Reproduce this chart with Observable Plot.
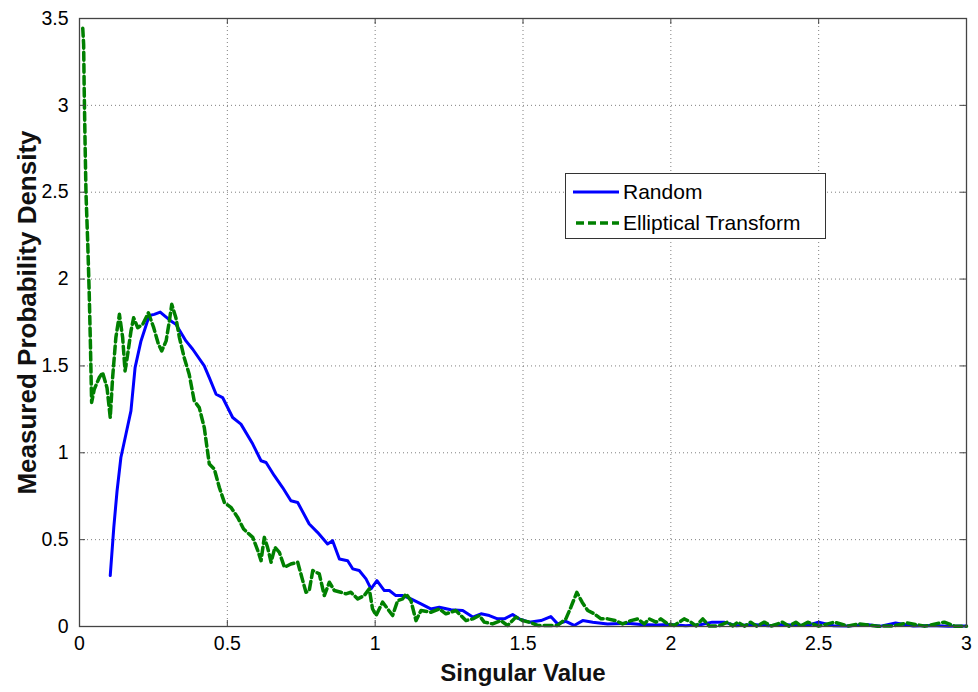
<!DOCTYPE html>
<html>
<head>
<meta charset="utf-8">
<script src="https://cdn.jsdelivr.net/npm/d3@7"></script>
<script src="https://cdn.jsdelivr.net/npm/@observablehq/plot@0.6"></script>
<style>
  html, body { margin: 0; padding: 0; background: #fff; }
  #wrap { position: relative; width: 978px; height: 692px; font-family: "Liberation Sans", Arial, sans-serif; }
  #legend {
    position: absolute; left: 565px; top: 173px; width: 261px; height: 66px;
    background: #fff; border: 1px solid #333; box-sizing: border-box;
  }
  .entry { position: absolute; left: 7px; height: 30px; display: flex; align-items: center; }
  .entry svg { width: 46px; height: 10px; margin-right: 4px; }
  .entry span { font-size: 21px; color: #000; }
</style>
</head>
<body>
<div id="wrap">
  <div id="chart"></div>
  <div id="legend">
    <div class="entry" style="top:3px">
      <svg><line x1="0" x2="46" y1="5" y2="5" stroke="#0000ff" stroke-width="3"/></svg><span>Random</span>
    </div>
    <div class="entry" style="top:34px">
      <svg><line x1="3" x2="46" y1="5" y2="5" stroke="#008000" stroke-width="3.5" stroke-dasharray="8,4"/></svg><span>Elliptical Transform</span>
    </div>
  </div>
</div>
<script>
// Axis ticks
const xTicks = [0, 0.5, 1, 1.5, 2, 2.5, 3];
const yTicks = [0, 0.5, 1, 1.5, 2, 2.5, 3, 3.5];

// Measured density of singular values: [singular value, density]
const randomDensity = [
  [0.104,0.293],[0.116,0.571],[0.127,0.78],[0.140,0.973],[0.157,1.107],[0.174,1.241],
  [0.188,1.49],[0.208,1.644],[0.236,1.79],[0.253,1.797],[0.273,1.81],[0.289,1.787],
  [0.309,1.759],[0.326,1.74],[0.360,1.644],[0.383,1.596],[0.422,1.5],[0.439,1.433],
  [0.462,1.337],[0.484,1.318],[0.518,1.203],[0.546,1.165],[0.586,1.05],[0.614,0.954],
  [0.631,0.944],[0.659,0.868],[0.687,0.80],[0.715,0.724],[0.738,0.714],[0.777,0.59],
  [0.805,0.542],[0.839,0.475],[0.856,0.494],[0.879,0.389],[0.907,0.379],[0.924,0.332],
  [0.946,0.322],[0.969,0.274],[0.986,0.217],[1.006,0.264],[1.031,0.207],[1.048,0.207],
  [1.070,0.178],[1.093,0.178],[1.121,0.159],[1.155,0.13],[1.188,0.101],[1.217,0.111],
  [1.256,0.096],[1.296,0.092],[1.330,0.054],[1.358,0.073],[1.386,0.063],[1.414,0.044],
  [1.437,0.044],[1.465,0.069],[1.487,0.044],[1.521,0.025],[1.561,0.034],[1.594,0.057],
  [1.617,0.015],[1.645,0.030],[1.673,0.006],[1.702,0.034],[1.736,0.025],[1.786,0.015],
  [1.854,0.019],[1.899,0.011],[1.95,0.008],[2.0,0.012],[2.05,0.005],[2.10,0.01],
  [2.14,0.025],[2.18,0.025],[2.22,0.005],[2.28,0.012],[2.33,0.004],[2.38,0.012],
  [2.43,0.006],[2.47,0.01],[2.50,0.025],[2.55,0.004],[2.60,0.003],[2.66,0.012],
  [2.71,0.002],[2.76,0.02],[2.82,0.003],[2.88,0.006],[2.94,0.002],[3.0,0.003]
];

const ellipticalDensity = [
  [0.011,3.444],[0.014,3.35],[0.016,3.08],[0.019,2.77],[0.022,2.49],[0.028,2.20],
  [0.033,1.91],[0.037,1.62],[0.041,1.29],[0.050,1.366],[0.067,1.433],[0.078,1.462],
  [0.093,1.375],[0.104,1.203],[0.112,1.433],[0.123,1.663],[0.135,1.797],[0.146,1.663],
  [0.154,1.471],[0.163,1.567],[0.174,1.70],[0.183,1.777],[0.197,1.72],[0.214,1.74],
  [0.233,1.806],[0.251,1.72],[0.267,1.625],[0.278,1.586],[0.293,1.644],[0.304,1.759],
  [0.312,1.855],[0.326,1.777],[0.338,1.663],[0.354,1.548],[0.371,1.452],[0.388,1.299],
  [0.405,1.26],[0.422,1.145],[0.439,0.935],[0.456,0.906],[0.473,0.80],[0.490,0.714],
  [0.512,0.686],[0.535,0.628],[0.555,0.561],[0.586,0.513],[0.603,0.437],[0.614,0.379],
  [0.625,0.513],[0.636,0.456],[0.648,0.37],[0.661,0.456],[0.676,0.427],[0.693,0.341],
  [0.715,0.36],[0.738,0.37],[0.755,0.264],[0.766,0.197],[0.777,0.207],[0.789,0.322],
  [0.811,0.303],[0.828,0.178],[0.845,0.255],[0.862,0.207],[0.884,0.197],[0.901,0.188],
  [0.918,0.197],[0.941,0.159],[0.963,0.178],[0.980,0.217],[0.991,0.102],[1.003,0.063],
  [1.025,0.14],[1.042,0.102],[1.059,0.063],[1.076,0.149],[1.093,0.159],[1.104,0.188],
  [1.121,0.149],[1.138,0.034],[1.155,0.092],[1.188,0.082],[1.217,0.101],[1.239,0.073],
  [1.273,0.092],[1.290,0.063],[1.307,0.034],[1.330,0.044],[1.352,0.063],[1.369,0.025],
  [1.397,0.015],[1.425,0.034],[1.448,0.006],[1.476,0.054],[1.499,0.034],[1.521,0.025],
  [1.550,0.006],[1.583,0.006],[1.617,0.006],[1.645,0.044],[1.662,0.111],[1.682,0.197],
  [1.700,0.14],[1.719,0.092],[1.741,0.073],[1.764,0.044],[1.786,0.044],[1.814,0.034],
  [1.837,0.015],[1.865,0.034],[1.888,0.044],[1.910,0.015],[1.927,0.044],[1.950,0.025],
  [1.966,0.044],[1.989,0.015],[2.011,0.006],[2.045,0.044],[2.068,0.025],[2.085,0.003],
  [2.108,0.044],[2.13,0.003],[2.16,0.002],[2.192,0.025],[2.21,0.003],[2.226,0.025],
  [2.25,0.002],[2.27,0.025],[2.29,0.002],[2.316,0.025],[2.34,0.003],[2.378,0.025],
  [2.40,0.002],[2.423,0.025],[2.44,0.003],[2.463,0.025],[2.50,0.002],[2.553,0.025],
  [2.60,0.003],[2.637,0.015],[2.70,0.002],[2.75,0.003],[2.80,0.02],[2.86,0.002],
  [2.925,0.025],[2.96,0.002],[3.0,0.002]
];

const xLabel = "Singular Value";
const yLabel = "Measured Probability Density";

const fmt = d => String(d);
const gridStyle = {stroke: "#000", strokeOpacity: 0.5, strokeDasharray: "1,3", strokeWidth: 1};
const frameH = 692 - 18 - 66;
const frameW = 978 - 79 - 12;
const tickLen = 6;
const tickStyle = {stroke: "#444", strokeWidth: 1};

const chart = Plot.plot({
  width: 978,
  height: 692,
  marginLeft: 79,
  marginRight: 12,
  marginTop: 18,
  marginBottom: 66,
  style: {fontFamily: "'Liberation Sans', Arial, sans-serif", background: "#fff", color: "#000"},
  x: {domain: [0, 3]},
  y: {domain: [0, 3.5]},
  marks: [
    Plot.gridX(xTicks, gridStyle),
    Plot.gridY(yTicks, gridStyle),
    Plot.line(randomDensity, {x: d => d[0], y: d => d[1], stroke: "#0000ff", strokeWidth: 3}),
    Plot.line(ellipticalDensity, {x: d => d[0], y: d => d[1], stroke: "#008000", strokeWidth: 3.5, strokeDasharray: "8,4"}),
    // tick labels
    Plot.axisX(xTicks, {anchor: "bottom", tickSize: 0, tickPadding: 10, tickFormat: fmt, fontSize: 19.5, label: null}),
    Plot.axisY(yTicks, {anchor: "left", tickSize: 0, tickPadding: 11, tickFormat: fmt, fontSize: 19.5, label: null}),
    // inward tick marks on all four sides
    Plot.tickX(xTicks, {x: d => d, insetTop: frameH - tickLen, ...tickStyle}),
    Plot.tickX(xTicks, {x: d => d, insetBottom: frameH - tickLen, ...tickStyle}),
    Plot.tickY(yTicks, {y: d => d, insetRight: frameW - tickLen, ...tickStyle}),
    Plot.tickY(yTicks, {y: d => d, insetLeft: frameW - tickLen, ...tickStyle}),
    Plot.frame({stroke: "#444", strokeWidth: 1.3}),
    // axis titles
    Plot.text([xLabel], {frameAnchor: "bottom", dy: 54, fontSize: 24, fontWeight: "bold", fill: "#111", text: d => d}),
    Plot.text([yLabel], {frameAnchor: "left", textAnchor: "middle", dx: -52, dy: -10, rotate: -90, fontSize: 26, fontWeight: "bold", fill: "#111", text: d => d})
  ]
});

document.getElementById("chart").appendChild(chart);
</script>
</body>
</html>
